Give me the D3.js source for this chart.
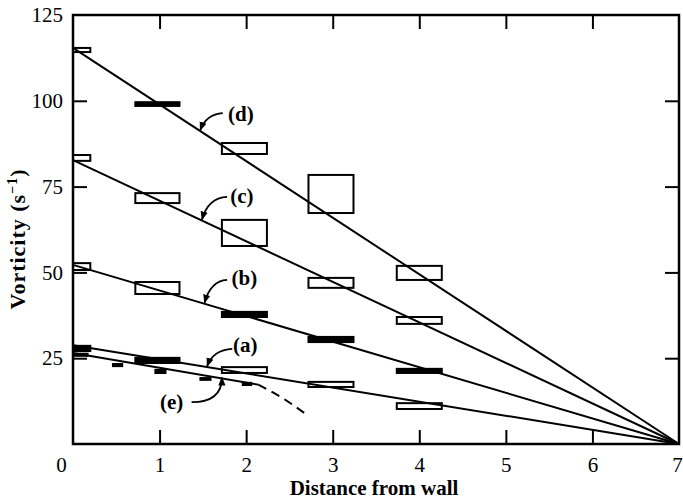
<!DOCTYPE html>
<html>
<head>
<meta charset="utf-8">
<script src="https://cdn.jsdelivr.net/npm/d3@7"></script>
<style>
  body { margin: 0; background: #fff; }
  text { font-family: "Liberation Serif", "Times New Roman", serif; fill: #000; }
</style>
</head>
<body>
<div id="chart"></div>
<script>
var xTicks = [0, 1, 2, 3, 4, 5, 6, 7];
var yTicks = [25, 50, 75, 100, 125];

// x extent of the boxes at each station
var xBins = [[0, 0.2], [0.72, 1.23], [1.72, 2.24], [2.72, 3.24], [3.74, 4.26]];

// fitted lines, all meeting at (7, 0)
var seriesNames = ["a", "b", "c", "d"];
var intercepts = [28.8, 52.2, 82.7, 115.4];

// [low, high, filled] per station
var boxesA = [[27.1, 28.6, 1], [23.6, 25.1, 1], [20.7, 22.4, 0], [16.6, 18.1, 0], [10.2, 11.9, 0]];
var boxesB = [[50.7, 52.7, 0], [43.7, 47.2, 0], [37.0, 38.5, 1], [29.7, 31.2, 1], [20.7, 21.9, 1]];
var boxesC = [[82.5, 84.2, 0], [70.2, 73.1, 0], [57.7, 65.3, 0], [45.5, 48.4, 0], [35.0, 37.0, 0]];
var boxesD = [[114.2, 115.4, 0], [98.5, 99.6, 1], [84.5, 87.7, 0], [67.3, 78.4, 0], [47.8, 51.9, 0]];

// curve (e): small marks [x0, x1, y0, y1], solid and dashed parts
var marksE = [[0, 0.18, 25.4, 26.6], [0.45, 0.58, 22.4, 23.6], [0.94, 1.08, 20.4, 21.9], [1.46, 1.6, 18.4, 19.5], [1.95, 2.07, 16.9, 18.1]];
var solidE = [[0, 26.5], [2.14, 17.3]];
var dashedE = [[2.14, 17.3], [2.42, 13.4], [2.7, 8.5]];

var labels = [
  { text: "(d)", x: 1.94, y: 94.1, sx: 1.73, sy: 96.4, tip: 1.47, line: 3 },
  { text: "(c)", x: 1.95, y: 70.2, sx: 1.78, sy: 72.0, tip: 1.49, line: 2 },
  { text: "(b)", x: 1.98, y: 46.3, sx: 1.78, sy: 47.8, tip: 1.52, line: 1 },
  { text: "(a)", x: 1.99, y: 26.8, sx: 1.84, sy: 27.7, tip: 1.55, line: 0 },
  { text: "(e)", x: 1.14, y: 10.2, sx: 1.37, sy: 12.2, tip: 1.72, line: -1 }
];

var w = 683, h = 501;
var padLeft = 73, padRight = 679, padTop = 15, padBottom = 444;

var svg = d3.select("#chart").append("svg")
  .attr("width", w)
  .attr("height", h);

var defs = svg.append("defs");
defs.append("marker")
  .attr("id", "head")
  .attr("viewBox", "0 0 10 10")
  .attr("refX", 9)
  .attr("refY", 5)
  .attr("markerWidth", 9)
  .attr("markerHeight", 9)
  .attr("markerUnits", "userSpaceOnUse")
  .attr("orient", "auto")
  .append("path")
  .attr("d", "M0,1 L10,5 L0,9 Z")
  .attr("fill", "#000");

var x = d3.scaleLinear().domain([0, 7]).range([padLeft, padRight]);
var y = d3.scaleLinear().domain([0, 125]).range([padBottom, padTop]);

function lineVal(i, xv) {
  if (i < 0) return solidE[0][1] + (solidE[1][1] - solidE[0][1]) * xv / solidE[1][0];
  return intercepts[i] * (1 - xv / 7);
}

// axes (ticks point inward)
var bottomAxis = svg.append("g")
  .attr("transform", "translate(0," + padBottom + ")")
  .call(d3.axisBottom(x).tickValues(xTicks).tickSize(-14).tickPadding(13).tickFormat(d3.format("d")));
var topAxis = svg.append("g")
  .attr("transform", "translate(0," + padTop + ")")
  .call(d3.axisTop(x).tickValues(xTicks).tickSize(-14).tickFormat(""));
var leftAxis = svg.append("g")
  .attr("transform", "translate(" + padLeft + ",0)")
  .call(d3.axisLeft(y).tickValues(yTicks).tickSize(-14).tickPadding(10));
var rightAxis = svg.append("g")
  .attr("transform", "translate(" + padRight + ",0)")
  .call(d3.axisRight(y).tickValues(yTicks).tickSize(-14).tickFormat(""));

[bottomAxis, topAxis, leftAxis, rightAxis].forEach(function(g) {
  g.select(".domain").remove();
  g.selectAll(".tick line")
    .attr("stroke", "#000")
    .attr("stroke-width", 2)
    .style("display", function(d) {
      return (d === 0 || d === 7 || d === 125) ? "none" : null;
    });
  g.selectAll(".tick text")
    .style("font-size", "21px")
    .style("font-family", "'Liberation Serif', serif")
    .attr("fill", "#000");
});
// the end labels sit a little inside the page, as in the print
bottomAxis.selectAll(".tick text")
  .attr("x", function(d) { return d === 0 ? -12 : (d === 7 ? -2 : 0); });

// frame
svg.append("rect")
  .attr("x", padLeft)
  .attr("y", padTop)
  .attr("width", padRight - padLeft)
  .attr("height", padBottom - padTop)
  .attr("fill", "none")
  .attr("stroke", "#000")
  .attr("stroke-width", 2.5);

// fitted lines
svg.selectAll("line.fit")
  .data(intercepts)
  .enter()
  .append("line")
  .attr("class", "fit")
  .attr("x1", x(0))
  .attr("y1", function(d) { return y(d); })
  .attr("x2", x(7))
  .attr("y2", y(0))
  .attr("stroke", "#000")
  .attr("stroke-width", 2);

var pathGen = d3.line()
  .x(function(d) { return x(d[0]); })
  .y(function(d) { return y(d[1]); });

svg.append("path")
  .attr("d", pathGen(solidE))
  .attr("fill", "none")
  .attr("stroke", "#000")
  .attr("stroke-width", 2);

svg.append("path")
  .attr("d", pathGen.curve(d3.curveNatural)(dashedE))
  .attr("fill", "none")
  .attr("stroke", "#000")
  .attr("stroke-width", 2)
  .attr("stroke-dasharray", "9,6");

// boxes
var allBoxes = [boxesA, boxesB, boxesC, boxesD];
allBoxes.forEach(function(boxes) {
  svg.append("g").selectAll("rect")
    .data(boxes)
    .enter()
    .append("rect")
    .attr("x", function(d, i) { return x(xBins[i][0]); })
    .attr("width", function(d, i) { return x(xBins[i][1]) - x(xBins[i][0]); })
    .attr("y", function(d) { return y(d[1]); })
    .attr("height", function(d) { return y(d[0]) - y(d[1]); })
    .attr("fill", function(d) { return d[2] ? "#000" : "#fff"; })
    .attr("fill-opacity", function(d) { return d[2] ? 1 : 0; })
    .attr("stroke", "#000")
    .attr("stroke-width", 2);
});

svg.append("g").selectAll("rect")
  .data(marksE)
  .enter()
  .append("rect")
  .attr("x", function(d) { return x(d[0]); })
  .attr("width", function(d) { return x(d[1]) - x(d[0]); })
  .attr("y", function(d) { return y(d[3]); })
  .attr("height", function(d) { return y(d[2]) - y(d[3]); })
  .attr("fill", "#000");

// labels with curved arrows
labels.forEach(function(d) {
  var sx = x(d.sx), sy = y(d.sy);
  var tx = x(d.tip), ty = y(lineVal(d.line, d.tip)) - 1;
  var cx, cy;
  if (d.line < 0) {
    cx = tx; cy = sy;
  } else {
    cx = tx + 6; cy = sy + 1;
  }
  svg.append("path")
    .attr("d", "M" + sx + "," + sy + " Q" + cx + "," + cy + " " + tx + "," + ty)
    .attr("fill", "none")
    .attr("stroke", "#000")
    .attr("stroke-width", 1.8)
    .attr("marker-end", "url(#head)");
  svg.append("text")
    .attr("x", x(d.x))
    .attr("y", y(d.y))
    .attr("text-anchor", "middle")
    .style("font-size", "21px")
    .style("font-weight", "bold")
    .text(d.text);
});

// axis titles
svg.append("text")
  .attr("x", 374)
  .attr("y", 495)
  .attr("text-anchor", "middle")
  .style("font-size", "21px")
  .style("font-weight", "bold")
  .text("Distance from wall");

var yTitle = svg.append("text")
  .attr("transform", "translate(25,239) rotate(-90)")
  .attr("text-anchor", "middle")
  .style("font-size", "22px")
  .style("font-weight", "bold")
  .style("letter-spacing", "1px");
yTitle.append("tspan").text("Vorticity (s");
yTitle.append("tspan").attr("dy", -8).style("font-size", "14px").text("\u22121");
yTitle.append("tspan").attr("dy", 8).text(")");
</script>
</body>
</html>
